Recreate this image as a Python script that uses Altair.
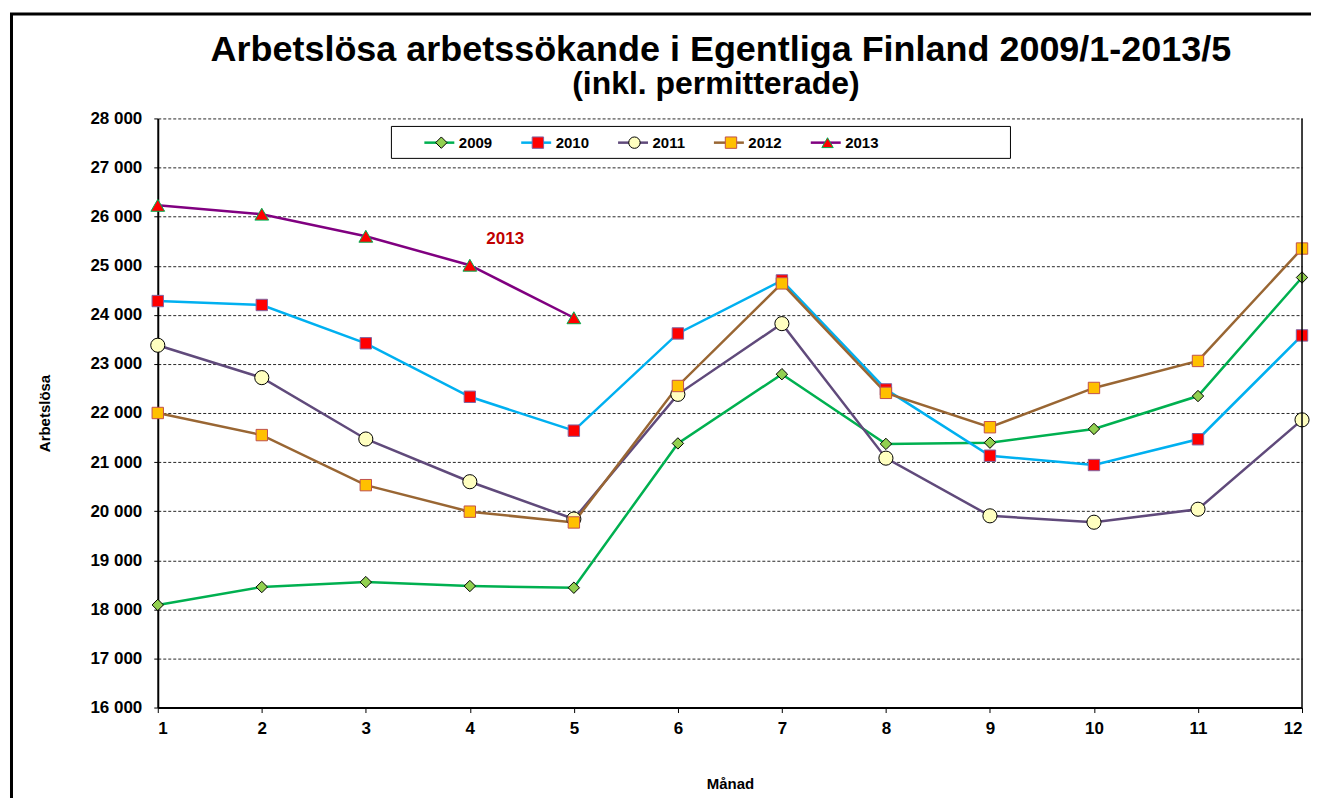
import altair as alt
import pandas as pd

# ---------------- data ----------------
MONTHS = [1, 2, 3, 4, 5, 6, 7, 8, 9, 10, 11, 12]
YEARS = ["2009", "2010", "2011", "2012", "2013"]
V2009 = [18090, 18455, 18555, 18475, 18440, 21380, 22790, 21370, 21395, 21675, 22345, 24760]
V2010 = [24280, 24200, 23420, 22330, 21640, 23620, 24700, 22480, 21130, 20940, 21465, 23580]
V2011 = [23380, 22720, 21470, 20600, 19840, 22380, 23820, 21080, 19905, 19775, 20040, 21860]
V2012 = [22000, 21550, 20530, 19990, 19770, 22550, 24640, 22410, 21710, 22510, 23060, 25350]
V2013 = [26230, 26050, 25600, 25010, 23940]
SERIES = [V2009, V2010, V2011, V2012, V2013]

Y_TICKS = [16000, 17000, 18000, 19000, 20000, 21000, 22000, 23000, 24000, 25000, 26000, 27000, 28000]

LINE_COLORS = ["#00B050", "#00B0F0", "#604A7B", "#996633", "#800080"]
MARKER_FILLS = ["#92D050", "#FF0000", "#FFFFC0", "#FFC000", "#FF0000"]
MARKER_STROKES = ["#000000", "#8064A2", "#000000", "#C0504D", "#00B050"]
MARKER_SHAPES = ["diamond", "square", "circle", "square", "triangle-up"]
MARKER_SIZES = [130, 130, 200, 130, 190]

TITLE = ["Arbetslösa arbetssökande i Egentliga Finland 2009/1-2013/5"]
SUBTITLE = ["(inkl. permitterade)"]
ANNOT_TEXT = ["2013"]
ANNOT_X = [4.34]
ANNOT_Y = [25540]

rows = []
for yr, vals in zip(YEARS, SERIES):
    for m, v in zip(MONTHS, vals):
        rows.append({"month": m, "value": v, "year": yr, "Year": yr, "ms": "s" + yr})
df = pd.DataFrame(rows)

one = pd.DataFrame({"k": [0]})
title_df = pd.DataFrame({"t": TITLE})
sub_df = pd.DataFrame({"t": SUBTITLE})
annot_df = pd.DataFrame({"month": ANNOT_X, "value": ANNOT_Y, "t": ANNOT_TEXT})

FONT = "Liberation Sans"
W, H = 1146, 590

x_enc = alt.X(
    "month:Q",
    scale=alt.Scale(domain=[1, 12], nice=False, zero=False),
    axis=alt.Axis(
        values=MONTHS, format="d", title="Månad",
        labelFont=FONT, labelFontSize=17, labelFontWeight="bold", labelColor="black",
        labelPadding=8, tickSize=5, tickColor="black", tickWidth=1,
        domainColor="black", domainWidth=2, grid=False,
        titleFont=FONT, titleFontSize=15, titleFontWeight="bold", titleColor="black",
        titleX=573, titleY=76, titleAlign="center", titleBaseline="middle",
    ),
)
y_enc = alt.Y(
    "value:Q",
    scale=alt.Scale(domain=[16000, 28000], nice=False, zero=False),
    axis=alt.Axis(
        values=Y_TICKS,
        labelExpr="replace(format(datum.value, ','), ',', ' ')",
        title="Arbetslösa",
        labelFont=FONT, labelFontSize=17, labelFontWeight="bold", labelColor="black",
        labelPadding=12, tickSize=4, tickColor="black", tickWidth=1,
        domainColor="black", domainWidth=2,
        grid=True, gridColor="black", gridDash=[3, 2], gridWidth=1, gridOpacity=0.85,
        titleFont=FONT, titleFontSize=15, titleFontWeight="bold", titleColor="black",
        titleAngle=270, titleX=-113, titleY=295, titleAlign="center", titleBaseline="middle",
    ),
)

legend_common = dict(
    orient="none", direction="horizontal", columns=5, padding=0,
    labelFont=FONT, labelFontSize=15, labelFontWeight="bold", labelColor="black",
    title=None,
)

line_legend = alt.Legend(
    legendX=265.5, legendY=7.5, symbolType="stroke", symbolSize=900,
    symbolStrokeWidth=2.5, labelOffset=3, columnPadding=23, **legend_common,
)
marker_legend = alt.Legend(
    legendX=265.5, legendY=16.5, symbolSize=130, symbolStrokeWidth=1,
    symbolOffset=11, labelOffset=44, labelOpacity=0, labelExpr="' '",
    columnPadding=26.7, **legend_common,
)

lines = alt.Chart(df).mark_line(strokeWidth=2.5).encode(
    x=x_enc,
    y=y_enc,
    color=alt.Color("year:N", scale=alt.Scale(range=LINE_COLORS), legend=line_legend),
)

points = alt.Chart(df).mark_point(filled=True, opacity=1, strokeWidth=1).encode(
    x="month:Q",
    y="value:Q",
    shape=alt.Shape("Year:N", scale=alt.Scale(range=MARKER_SHAPES), legend=marker_legend),
    fill=alt.Fill("Year:N", scale=alt.Scale(range=MARKER_FILLS), legend=marker_legend),
    stroke=alt.Stroke("Year:N", scale=alt.Scale(range=MARKER_STROKES), legend=marker_legend),
    size=alt.Size("ms:N", scale=alt.Scale(type="ordinal", range=MARKER_SIZES), legend=None),
)

annot = alt.Chart(annot_df).mark_text(
    font=FONT, fontSize=17, fontWeight="bold", color="#C00000", align="center", baseline="middle"
).encode(x="month:Q", y="value:Q", text="t:N")

frame = alt.Chart(one).mark_rect(fill="white", fillOpacity=0, stroke="black", strokeWidth=3).encode(
    x=alt.value(-146.5), x2=alt.value(1400), y=alt.value(-104.5), y2=alt.value(900)
)
legend_box = alt.Chart(one).mark_rect(fill="white", stroke="black", strokeWidth=1).encode(
    x=alt.value(234), x2=alt.value(854), y=alt.value(8), y2=alt.value(40)
)
right_border = alt.Chart(one).mark_rule(color="black", strokeWidth=1.5).encode(
    x=alt.datum(12), y=alt.value(0), y2=alt.value(H)
)

title_txt = alt.Chart(title_df).mark_text(
    font=FONT, fontSize=36, fontWeight="bold", color="black", align="center", baseline="alphabetic"
).encode(x=alt.value(564), y=alt.value(-58), text="t:N")
sub_txt = alt.Chart(sub_df).mark_text(
    font=FONT, fontSize=32, fontWeight="bold", color="black", align="center", baseline="alphabetic"
).encode(x=alt.value(559), y=alt.value(-24), text="t:N")

chart = alt.layer(
    lines, frame, legend_box, points, annot, right_border, title_txt, sub_txt
).properties(
    width=W, height=H,
    autosize=alt.AutoSizeParams(type="none"),
    padding={"left": 150, "top": 110, "right": 9, "bottom": 90},
    background="white",
).configure_view(strokeWidth=0)

chart.save("out.html", embed_options={"renderer": "svg", "actions": False})
